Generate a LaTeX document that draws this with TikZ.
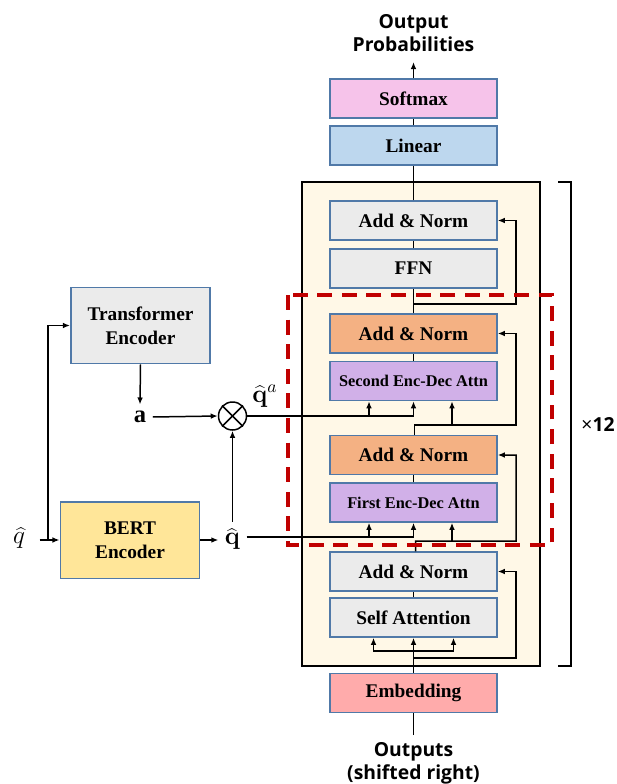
\documentclass[tikz,border=0pt]{standalone}
\usepackage{fontspec}
\usepackage{bm}
\setmainfont{Liberation Serif}
\newfontfamily\labelfont{Open Sans}
\usetikzlibrary{arrows.meta}
\definecolor{boxedge}{HTML}{5079A8}
\definecolor{softpink}{HTML}{F6C3EA}
\definecolor{linblue}{HTML}{BDD7EE}
\definecolor{normgray}{HTML}{EBEBEB}
\definecolor{normorange}{HTML}{F4B183}
\definecolor{attnpurple}{HTML}{D1B0E8}
\definecolor{embred}{HTML}{FFABAB}
\definecolor{bertyellow}{HTML}{FFE699}
\definecolor{layerbeige}{HTML}{FFF8E7}
\definecolor{dashred}{HTML}{C00000}
\tikzset{
  blk/.style={draw=boxedge, line width=0.85pt, minimum width=3.34cm, minimum height=0.78cm, inner sep=0pt, font=\fontsize{11}{13}\selectfont\bfseries},
  attn/.style={blk, fill=attnpurple, font=\fontsize{9.3}{11}\selectfont\bfseries},
  encbox/.style={draw=boxedge, line width=0.85pt, minimum width=2.79cm, minimum height=1.53cm, inner sep=0pt, align=center, font=\fontsize{11}{13.6}\selectfont\bfseries},
  outlbl/.style={align=center, inner sep=0pt, font=\labelfont\bfseries\fontsize{11}{13}\selectfont},
  vec/.style={font=\fontsize{14}{16}\selectfont}
}

\begin{document}
\begin{tikzpicture}[x=0.02cm, y=-0.02cm, >={Latex[length=4pt,width=3.2pt]}, line width=0.85pt]
\useasboundingbox (0,0) rectangle (617,784);

% decoder layer
\draw[fill=layerbeige] (302,182) rectangle (540,666);

\node[blk, fill=softpink] (soft) at (413.5,98.5) {Softmax};
\node[blk, fill=linblue] (lin) at (413.5,145.5) {Linear};
\node[blk, fill=normgray] (an3) at (413.5,220.5) {Add \& Norm};
\node[blk, fill=normgray] (ffn) at (413.5,268.5) {FFN};
\node[blk, fill=normorange] (an2) at (413.5,333.5) {Add \& Norm};
\node[attn] (att2) at (413.5,381) {Second Enc-Dec Attn};
\node[blk, fill=normorange] (an1) at (413.5,455) {Add \& Norm};
\node[attn] (att1) at (413.5,502.5) {First Enc-Dec Attn};
\node[blk, fill=normgray] (an0) at (413.5,571.5) {Add \& Norm};
\node[blk, fill=normgray] (self) at (413.5,617.5) {Self Attention};
\node[blk, fill=embred] (emb) at (413.5,693) {Embedding};

\node[outlbl, anchor=south] (outp) at (413.5,52) {Output\\Probabilities};
\node[outlbl, anchor=north] (outs) at (413.5,742) {Outputs\\(shifted right)};
\coordinate (top) at (413.5,62);
\coordinate (bot) at (413.5,735);

% encoders
\node[encbox, fill=normgray] (tenc) at (140.5,325.5) {Transformer\\Encoder};
\node[encbox, fill=bertyellow] (bert) at (130,540) {BERT\\Encoder};
\node[vec] (avec) at (140,417) {$\mathbf{a}$};
\node[circle, draw, minimum size=0.56cm, inner sep=0pt] (circ) at (232.5,416) {};
\draw (circ.north west) -- (circ.south east);
\draw (circ.north east) -- (circ.south west);
\node[vec] (qa) at (265,396) {$\bm{\widehat{\mathbf{q}}}^{a}$};
\node[vec] (qb) at (232.5,539) {$\bm{\widehat{\mathbf{q}}}$};
\node[vec, outer xsep=5pt] (qin) at (19,538) {$\widehat{q}$};
\node[font=\labelfont\fontsize{11}{13}\selectfont] (rep) at (598,424) {×{\bfseries 12}};

% left side
\coordinate (split) at (48,540);
\draw[->] (qin.east |- split) -- (bert.west);
\draw[->] (split) |- (tenc.west);
\draw[->] (tenc.south) -- (avec.north);
\draw[->] (avec.east) -- (circ.west);
\draw[->] (bert.east) -- (qb.west |- bert.east);
\draw[->] (qb.north) -- (circ.south);

% output side
\draw (bot) -- (emb.south);
\draw[->] (soft.north) -- (top);
\draw (lin.north) -- (soft.south);
\draw (an3.north) -- (lin.south);
\draw (ffn.north) -- (an3.south);
\draw (an2.north) -- (ffn.south);
\draw (att2.north) -- (an2.south);
\draw (att1.north) -- (an1.south);
\draw (self.north) -- (an0.south);

% self attention inputs
\coordinate (s0) at (413.5,651);
\coordinate (r0) at (413.5,658);
\draw (emb.north) -- (s0);
\draw[->] (s0) -- (self.south);
\draw[->] (s0) -| ([xshift=-0.8cm]self.south);
\draw[->] (s0) -| ([xshift=0.8cm]self.south);
\draw[->] (r0) -- ++(102.5,0) |- (an0.east);

% first enc-dec attention
\coordinate (k1) at (413.5,537);
\coordinate (r1) at (415.5,541);
\draw[->] (qb.east |- k1) -- (k1) -- (att1.south);
\draw[->] ([xshift=-0.89cm]att1.south |- k1) -- ([xshift=-0.89cm]att1.south);
\draw[->] ([xshift=0.04cm]an0.north) -- (r1) -- ++(100.5,0) |- (an1.east);
\draw[->] ([xshift=0.77cm]att1.south |- r1) -- ([xshift=0.77cm]att1.south);

% second enc-dec attention
\coordinate (k2) at (413.5,416);
\coordinate (r2) at (414.5,425);
\draw[->] (circ.east) -- (k2) -- (att2.south);
\draw[->] ([xshift=-0.89cm]att2.south |- k2) -- ([xshift=-0.89cm]att2.south);
\draw[->] ([xshift=0.02cm]an1.north) -- (r2) -- ++(101.5,0) |- (an2.east);
\draw[->] ([xshift=0.77cm]att2.south |- r2) -- ([xshift=0.77cm]att2.south);

% ffn residual
\coordinate (r3) at (413.5,304);
\draw[->] (r3) -- ++(102.5,0) |- (an3.east);

% repeated block
\draw[dashred, line width=2.3pt, dash pattern=on 8.5pt off 5.5pt] (288,295) rectangle (552,545);
\draw (558,182) -- (571,182) -- (571,666) -- (558,666);
\end{tikzpicture}
\end{document}
